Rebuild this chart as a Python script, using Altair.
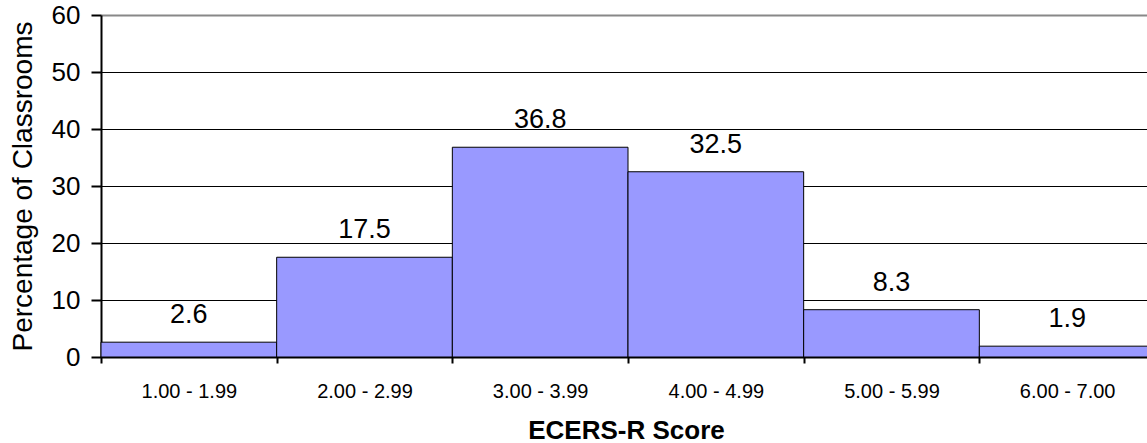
import altair as alt
import pandas as pd

# ECERS-R score ranges and share of classrooms in each range
categories = ["1.00 - 1.99", "2.00 - 2.99", "3.00 - 3.99", "4.00 - 4.99", "5.00 - 5.99", "6.00 - 7.00"]
percentages = [2.6, 17.5, 36.8, 32.5, 8.3, 1.9]
y_ticks = [0, 10, 20, 30, 40, 50, 60]

df = pd.DataFrame({"score": categories, "pct": percentages})

FONT = "Liberation Sans"

x_enc = alt.X(
    "score:N",
    sort=categories,
    scale=alt.Scale(range=[0, 1054], paddingInner=0, paddingOuter=0),
    axis=alt.Axis(
        title="ECERS-R Score",
        titleFont=FONT,
        titleFontSize=26,
        titleFontWeight="bold",
        titleColor="black",
        titlePadding=16,
        titleX=525,
        labelAngle=0,
        labelFont=FONT,
        labelFontSize=20,
        labelColor="black",
        labelPadding=18,
        tickBand="extent",
        tickColor="black",
        tickWidth=2,
        tickSize=6,
        domainColor="black",
        domainWidth=2,
        grid=False,
    ),
)

y_enc = alt.Y(
    "pct:Q",
    scale=alt.Scale(domain=[0, 60], nice=False),
    axis=alt.Axis(
        title="Percentage of Classrooms",
        titleFont=FONT,
        titleFontSize=28,
        titleFontWeight="normal",
        titleColor="black",
        titlePadding=14,
        values=y_ticks,
        labelFont=FONT,
        labelFontSize=26,
        labelColor="black",
        labelPadding=11,
        tickColor="black",
        tickWidth=2,
        tickSize=10,
        domainColor="black",
        domainWidth=2,
        grid=True,
        gridColor={"condition": {"test": "datum.value == 60", "value": "#888888"}, "value": "black"},
        gridWidth={"condition": {"test": "datum.value == 60", "value": 2}, "value": 1},
    ),
)

bars = alt.Chart(df).mark_bar(color="#9999FF", stroke="black", strokeWidth=1).encode(
    x=x_enc, y=y_enc
)

labels = alt.Chart(df).mark_text(
    baseline="bottom", dy=-13, fontSize=27, font=FONT, color="black"
).encode(
    x=alt.X("score:N", sort=categories),
    y=alt.Y("pct:Q"),
    text=alt.Text("pct:Q", format=".1f"),
)

chart = (
    alt.layer(bars, labels)
    .properties(
        width=1046,
        height=342,
        autosize=alt.AutoSizeParams(type="none"),
        padding={"left": 101, "top": 15, "right": 0, "bottom": 86},
    )
    .configure_view(stroke=None)
    .configure(background="white")
)

chart.save("out.html", embed_options={"renderer": "svg", "actions": False})
